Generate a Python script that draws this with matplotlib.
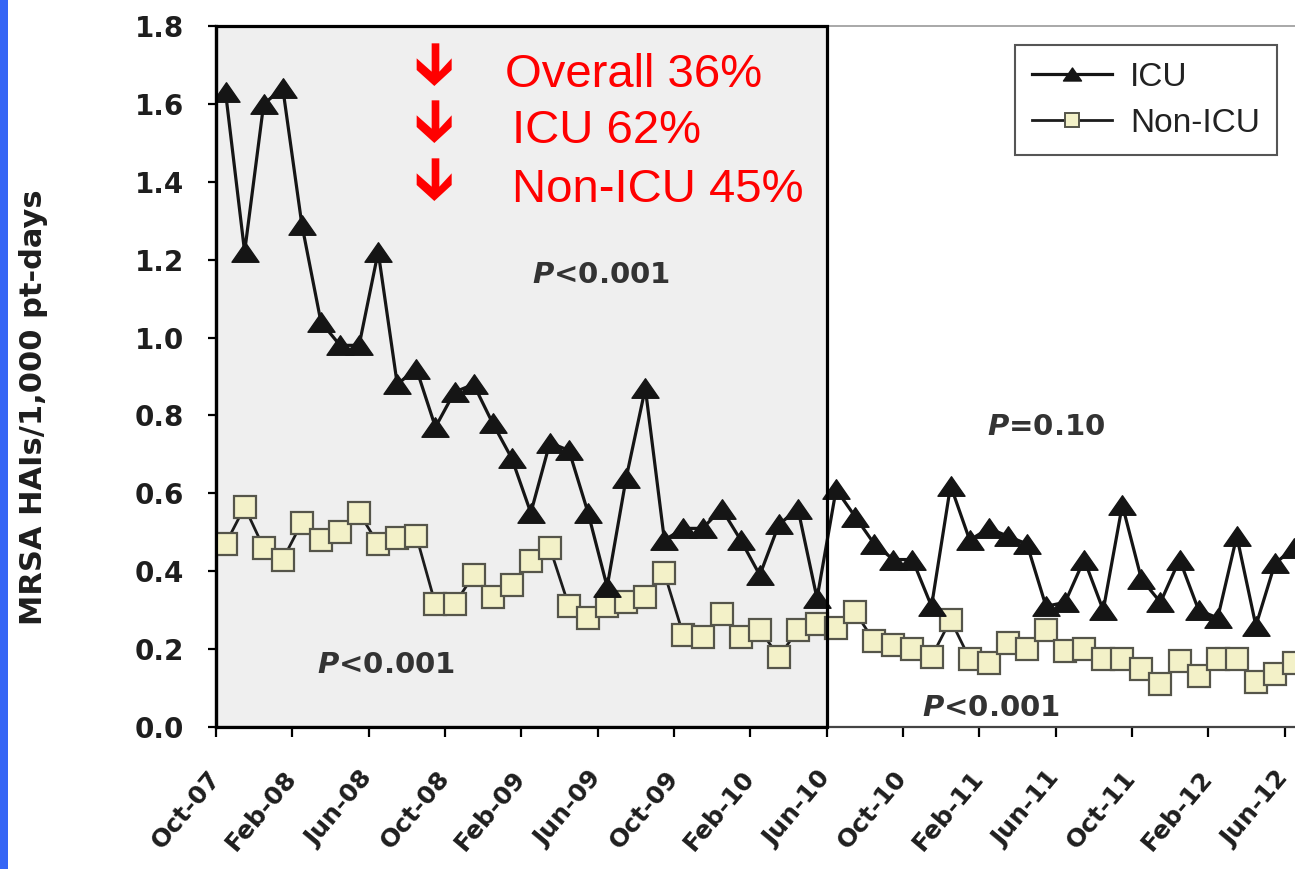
import numpy as np
import matplotlib
matplotlib.use('Agg')
import matplotlib.pyplot as plt
from matplotlib.patches import Rectangle, Polygon
from matplotlib.path import Path
from matplotlib.lines import Line2D

# Monthly MRSA HAI rates per 1,000 patient-days, Oct-07 onwards
tick_labels = ['Oct-07', 'Feb-08', 'Jun-08', 'Oct-08', 'Feb-09', 'Jun-09', 'Oct-09',
               'Feb-10', 'Jun-10', 'Oct-10', 'Feb-11', 'Jun-11', 'Oct-11', 'Feb-12', 'Jun-12']

icu = [1.63, 1.22, 1.60, 1.64, 1.29, 1.04, 0.98, 0.98, 1.22, 0.88,
       0.92, 0.77, 0.86, 0.88, 0.78, 0.69, 0.55, 0.73, 0.71, 0.55,
       0.36, 0.64, 0.87, 0.48, 0.51, 0.51, 0.56, 0.48, 0.39, 0.52,
       0.56, 0.33, 0.61, 0.54, 0.47, 0.43, 0.43, 0.31, 0.62, 0.48,
       0.51, 0.49, 0.47, 0.31, 0.32, 0.43, 0.30, 0.57, 0.38, 0.32,
       0.43, 0.30, 0.28, 0.49, 0.26, 0.42, 0.46]

non_icu = [0.47, 0.565, 0.46, 0.43, 0.525, 0.48, 0.50, 0.55, 0.47, 0.485,
           0.49, 0.315, 0.315, 0.39, 0.335, 0.365, 0.425, 0.46, 0.31, 0.28,
           0.31, 0.32, 0.335, 0.395, 0.235, 0.23, 0.29, 0.23, 0.25, 0.18,
           0.25, 0.265, 0.255, 0.295, 0.22, 0.21, 0.20, 0.18, 0.275, 0.175,
           0.165, 0.215, 0.20, 0.25, 0.195, 0.20, 0.175, 0.175, 0.15, 0.11,
           0.17, 0.13, 0.175, 0.175, 0.115, 0.135, 0.165]

reductions = ['Overall 36%', 'ICU 62%', 'Non-ICU 45%']
intervention_months = 32  # Oct-07 .. Jun-10

W, H = 1295, 869
fig = plt.figure(figsize=(W / 100, H / 100), dpi=100)
fig.patch.set_facecolor('white')
ax = fig.add_axes([216 / W, 142 / H, 1079 / W, 701 / H])

x = np.arange(len(icu)) + 0.5

# shaded intervention period
ax.add_patch(Rectangle((0, 0), intervention_months, 1.8, facecolor='#efefef',
                       edgecolor='none', zorder=0))
ax.add_patch(Rectangle((0, 0), intervention_months, 1.8, fill=False,
                       edgecolor='black', linewidth=2.3, zorder=6, clip_on=False))

# wide, squat triangle marker
tri = Path([(0, 0.72), (-1, -0.72), (1, -0.72), (0, 0.72)],
           [Path.MOVETO, Path.LINETO, Path.LINETO, Path.CLOSEPOLY])

ax.plot(x, non_icu, color='#1c1c1c', lw=2.0, marker='s', markersize=15.5,
        markerfacecolor='#f3f1c8', markeredgecolor='#55554a', markeredgewidth=1.6,
        zorder=3)
ax.plot(x, icu, color='#151515', lw=2.3, marker=tri, markersize=19.5,
        markerfacecolor='#151515', markeredgecolor='#151515', zorder=4)

ax.set_xlim(0, 56.55)
ax.set_ylim(0, 1.8)
ax.set_facecolor('white')

ax.set_yticks(np.arange(0, 1.81, 0.2))
ax.set_yticklabels(['%.1f' % v for v in np.arange(0, 1.81, 0.2)],
                   fontfamily='DejaVu Sans', fontweight='bold', fontsize=20, color='#1e1e1e')
ax.set_xticks(np.arange(0, 57, 4))
ax.set_xticklabels(tick_labels, rotation=50, ha='right', va='center',
                   rotation_mode='anchor', fontfamily='DejaVu Sans',
                   fontweight='bold', fontsize=18, color='#1e1e1e')
ax.tick_params(axis='y', length=6, width=1.6, pad=17, color='black')
ax.tick_params(axis='x', length=7, width=1.6, pad=27, color='black')

ax.spines['left'].set_color('black')
ax.spines['left'].set_linewidth(2.3)
ax.spines['bottom'].set_color('#444444')
ax.spines['bottom'].set_linewidth(1.6)
ax.spines['top'].set_color('#9a9a9a')
ax.spines['top'].set_linewidth(1.2)
ax.spines['right'].set_visible(False)

ax.set_ylabel('MRSA HAIs/1,000 pt-days', fontfamily='DejaVu Sans',
              fontweight='bold', fontsize=22, color='#1e1e1e')
ax.yaxis.set_label_coords(-(216 - 48) / 1079, (727 - 407) / 701)

# p-values
p_style = dict(fontfamily='DejaVu Sans', fontweight='bold', fontsize=21,
               color='#333333', ha='center', va='center', zorder=7)
ax.text(20.2, 1.16, r'$\mathbfit{P}$<0.001', **p_style)
ax.text(43.5, 0.77, r'$\mathbfit{P}$=0.10', **p_style)
ax.text(8.9, 0.16, r'$\mathbfit{P}$<0.001', **p_style)
ax.text(40.6, 0.05, r'$\mathbfit{P}$<0.001', **p_style)

# legend
handles = [
    Line2D([], [], color='#151515', lw=2.3, marker=tri, markersize=13,
           markerfacecolor='#151515', markeredgecolor='#151515'),
    Line2D([], [], color='#1c1c1c', lw=2.0, marker='s', markersize=10,
           markerfacecolor='#f3f1c8', markeredgecolor='#55554a', markeredgewidth=1.4),
]
leg = ax.legend(handles, ['ICU', 'Non-ICU'], loc='upper left',
                bbox_to_anchor=(1015 / W, 1 - 45 / H), bbox_transform=fig.transFigure,
                borderaxespad=0, frameon=True, fancybox=False, framealpha=1,
                prop={'family': 'Liberation Sans', 'size': 24},
                handlelength=2.4, handletextpad=0.55, labelspacing=0.45,
                borderpad=0.5)
leg.get_frame().set_edgecolor('#555555')
leg.get_frame().set_linewidth(1.5)
for t in leg.get_texts():
    t.set_color('#222222')

# red reduction arrows and text
arrow_shape = [(95, 10), (118, 10), (118, 95), (155, 55), (155, 90), (103, 138),
               (50, 90), (50, 55), (95, 95)]
text_y = [87, 143, 202]
text_x = [505, 512, 512]
for i, label in enumerate(reductions):
    dy = [0, 57, 115][i]
    pts = [((400 + px / 3) / W, 1 - (40 + py / 3 + dy) / H) for px, py in arrow_shape]
    fig.patches.append(Polygon(pts, closed=True, facecolor='#ff0000', edgecolor='none',
                               transform=fig.transFigure, figure=fig))
    fig.text(text_x[i] / W, 1 - text_y[i] / H, label, color='#ff0000',
             fontfamily='Liberation Sans', fontsize=34, ha='left', va='baseline')

# blue slide stripe on the left edge
fig.patches.append(Rectangle((0, 0), 8 / W, 1, facecolor='#3565f5', edgecolor='none',
                             transform=fig.transFigure, figure=fig))

fig.savefig('out.png', dpi=100)
